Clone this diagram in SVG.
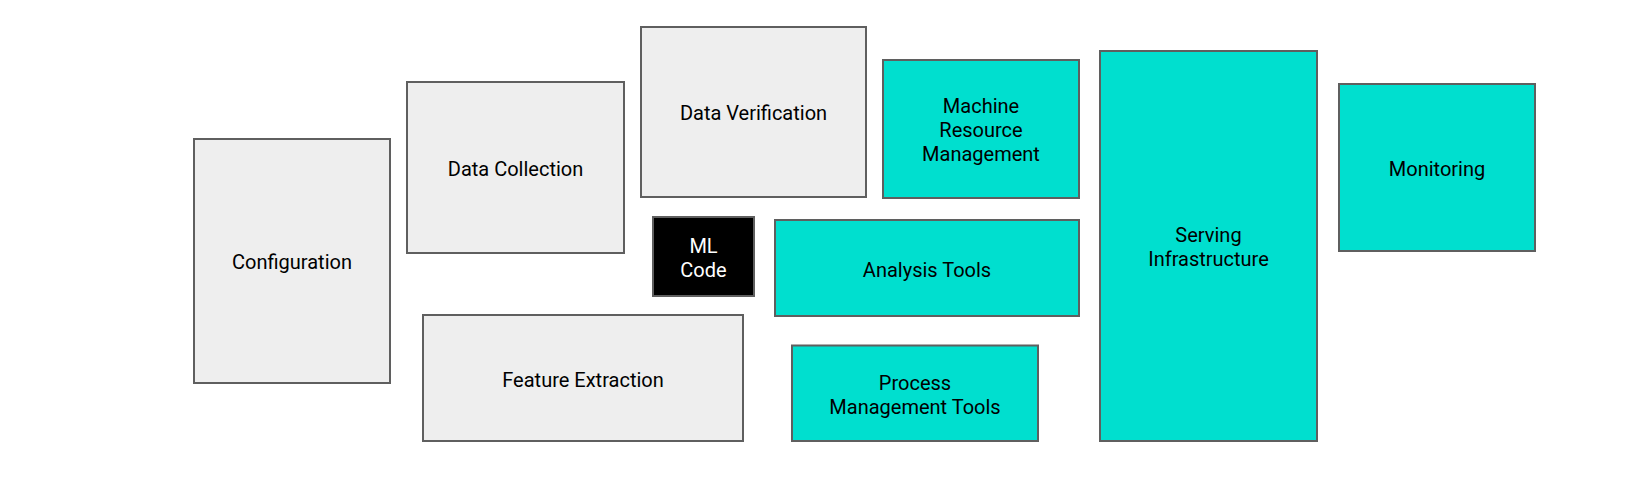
<svg xmlns="http://www.w3.org/2000/svg" width="1640" height="488" viewBox="0 0 1640 488">
<style>
  rect.box { stroke: #5f5f5f; stroke-width: 2; }
  .gray { fill: #eeeeee; }
  .teal { fill: #00dfcf; }
  .black { fill: #000000; }
  text { font-family: Roboto, "Liberation Sans", Arial, sans-serif; font-size: 20px; text-anchor: middle; fill: #000000; }
  text.light { fill: #ffffff; }
</style>
<rect x="0" y="0" width="1640" height="488" fill="#ffffff"/>
<g id="configuration">
  <rect class="box gray" x="194" y="139" width="196" height="244"/>
  <text x="292" y="269">Configuration</text>
</g>
<g id="data-collection">
  <rect class="box gray" x="407" y="82" width="217" height="171"/>
  <text x="515.5" y="175.5">Data Collection</text>
</g>
<g id="data-verification">
  <rect class="box gray" x="641" y="27" width="225" height="170"/>
  <text x="753.5" y="120">Data Verification</text>
</g>
<g id="machine-resource-management">
  <rect class="box teal" x="883" y="60" width="196" height="138"/>
  <text x="981" y="113">Machine</text>
  <text x="981" y="137">Resource</text>
  <text x="981" y="161">Management</text>
</g>
<g id="ml-code">
  <rect class="box black" x="653" y="217" width="101" height="79"/>
  <text class="light" x="703.5" y="252.5">ML</text>
  <text class="light" x="703.5" y="276.5">Code</text>
</g>
<g id="analysis-tools">
  <rect class="box teal" x="775" y="220" width="304" height="96"/>
  <text x="927" y="276.5">Analysis Tools</text>
</g>
<g id="feature-extraction">
  <rect class="box gray" x="423" y="315" width="320" height="126"/>
  <text x="583" y="386.5">Feature Extraction</text>
</g>
<g id="process-management-tools">
  <rect class="box teal" x="792" y="345.5" width="246" height="95.5"/>
  <text x="915" y="389.5">Process</text>
  <text x="915" y="413.5">Management Tools</text>
</g>
<g id="serving-infrastructure">
  <rect class="box teal" x="1100" y="51" width="217" height="390"/>
  <text x="1208.5" y="242">Serving</text>
  <text x="1208.5" y="266">Infrastructure</text>
</g>
<g id="monitoring">
  <rect class="box teal" x="1339" y="84" width="196" height="167"/>
  <text x="1437" y="175.5">Monitoring</text>
</g>
<g id="connectors"></g>
</svg>
